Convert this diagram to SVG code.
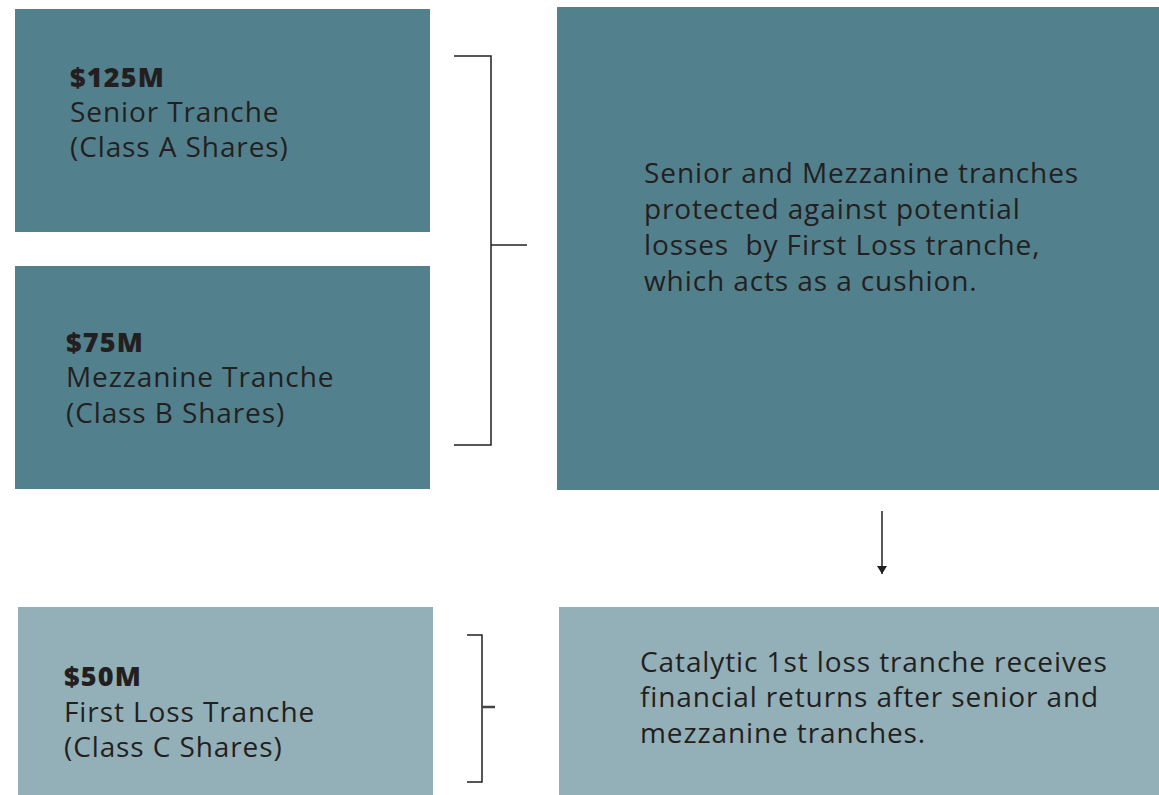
<svg xmlns="http://www.w3.org/2000/svg" width="1159" height="795" viewBox="0 0 1159 795">
<style>
.dark{fill:#52818D}
.light{fill:#93B0B8}
text{font-family:"Open Sans","Liberation Sans",sans-serif;fill:#231F20;font-size:28px;letter-spacing:0.9px}
.b{font-weight:800;font-size:27px;letter-spacing:1.2px}
.ln{stroke:#231F20;stroke-width:1.5;fill:none}
</style>
<defs>
<marker id="ah" markerWidth="10" markerHeight="12" refX="8" refY="6" orient="auto" markerUnits="userSpaceOnUse" viewBox="0 0 10 12">
<path d="M0,1 L8,6 L0,11 Z" fill="#231F20"/>
</marker>
</defs>
<rect width="1159" height="795" fill="#fff"/>
<g id="senior">
<rect class="dark" x="15" y="9" width="415" height="223"/>
<text x="70" y="87" class="b">$125M</text>
<text x="70" y="122">Senior Tranche</text>
<text x="70" y="157">(Class A Shares)</text>
</g>
<g id="mezzanine">
<rect class="dark" x="15" y="266" width="415" height="223"/>
<text x="66" y="352" class="b">$75M</text>
<text x="66" y="387">Mezzanine Tranche</text>
<text x="66" y="423">(Class B Shares)</text>
</g>
<g id="protection">
<rect class="dark" x="557" y="7" width="602" height="483"/>
<text x="644" y="183">Senior and Mezzanine tranches</text>
<text x="644" y="219">protected against potential</text>
<text x="644" y="255" xml:space="preserve">losses  by First Loss tranche,</text>
<text x="644" y="291">which acts as a cushion.</text>
</g>
<g id="firstloss">
<rect class="light" x="18" y="607" width="415" height="188"/>
<text x="64" y="686" class="b">$50M</text>
<text x="64" y="722">First Loss Tranche</text>
<text x="64" y="757">(Class C Shares)</text>
</g>
<g id="catalytic">
<rect class="light" x="559" y="607" width="600" height="188"/>
<text x="640" y="672">Catalytic 1st loss tranche receives</text>
<text x="640" y="707">financial returns after senior and</text>
<text x="640" y="743">mezzanine tranches.</text>
</g>
<g id="connectors">
<path class="ln" d="M454,56 H491 V445 H454"/>
<path class="ln" d="M491,245 H527"/>
<path class="ln" d="M467,635 H482 V782 H467"/>
<path d="M482,707 H495" stroke="#444" stroke-width="2.5"/>
<path class="ln" d="M882,511 V574" marker-end="url(#ah)"/>
</g>
</svg>
